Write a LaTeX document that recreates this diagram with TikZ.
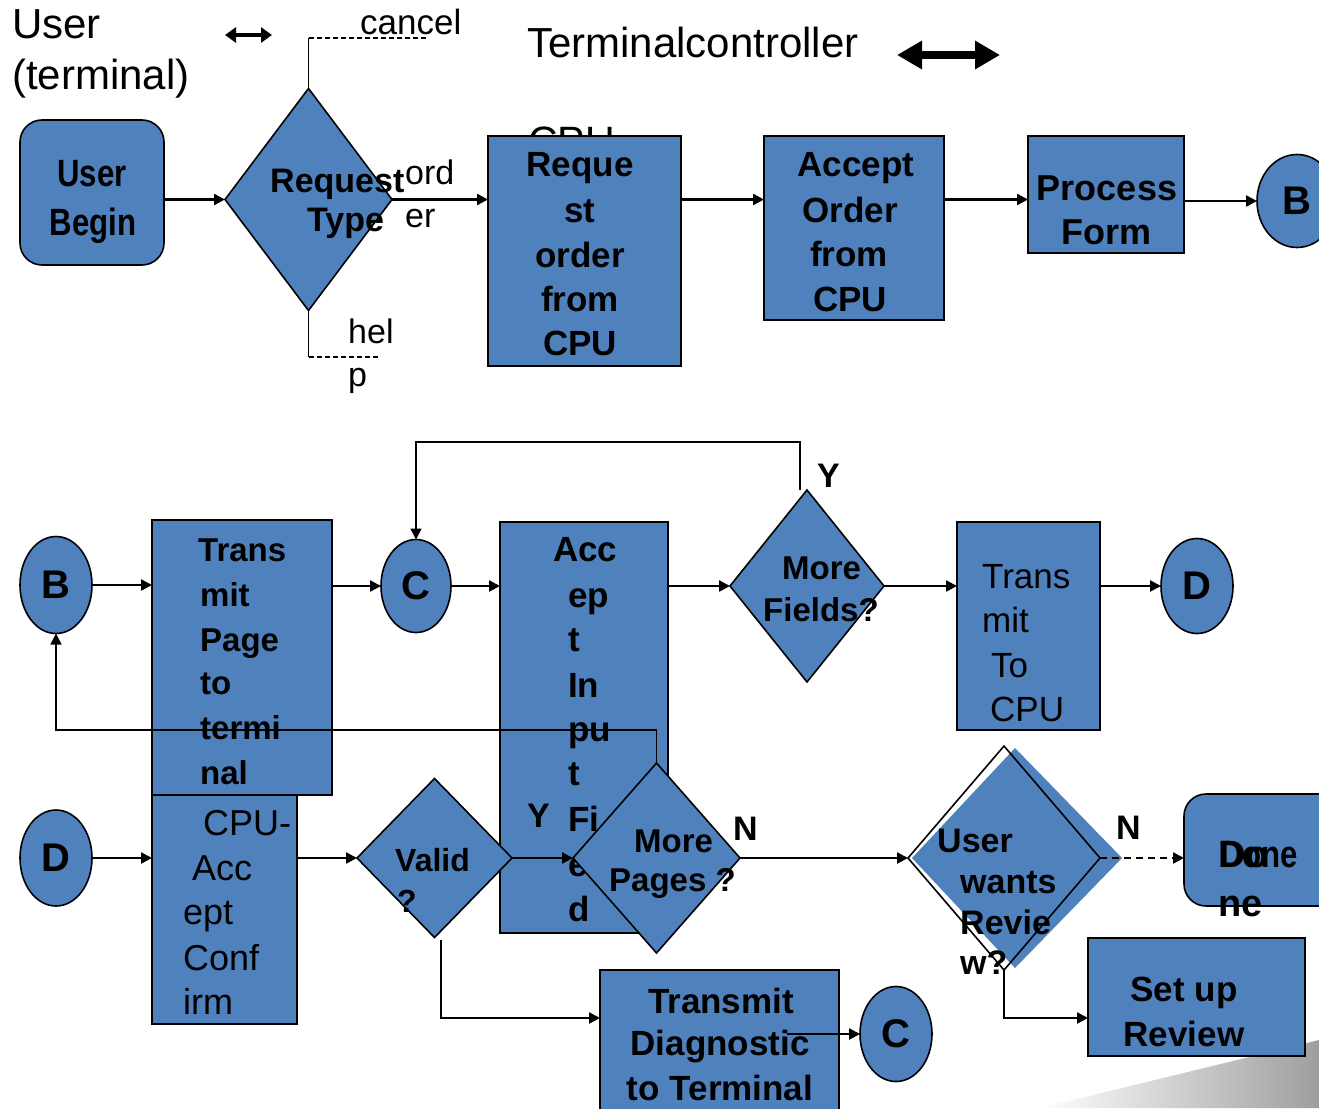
\documentclass[tikz,border=0pt]{standalone}
\usepackage{fontspec}
\setmainfont{Liberation Sans}
\newfontfamily\narrowfont[FakeStretch=0.82]{Liberation Sans}
\usetikzlibrary{shapes.geometric,arrows.meta}
\definecolor{fillblue}{HTML}{4F81BD}
\begin{document}
\begin{tikzpicture}[x=1pt,y=-1pt,
  shp/.style={draw=black,line width=1.6pt,fill=fillblue,inner sep=0pt,outer sep=0pt},
  boxn/.style={shp,rectangle},
  rbox/.style={shp,rectangle,rounded corners=22pt},
  ell/.style={shp,ellipse,font=\bfseries\fontsize{40}{40}\selectfont},
  dia/.style={shp,diamond},
  conn/.style={line width=2.4pt,-{Triangle[length=11pt,width=11pt]}},
  thinconn/.style={line width=1.5pt,-{Triangle[length=11pt,width=11pt]}},
  lead/.style={line width=1.5pt},
  dashlead/.style={line width=1.5pt,dash pattern=on 5pt off 3pt},
  tb/.style={font=\bfseries\fontsize{#1}{#1}\selectfont,inner sep=0pt,anchor=base},
  tbw/.style={font=\bfseries\fontsize{#1}{#1}\selectfont,inner sep=0pt,anchor=base west},
  tr/.style={font=\fontsize{#1}{#1}\selectfont,inner sep=0pt,anchor=base west},
  tn/.style={font=\narrowfont\bfseries\fontsize{#1}{#1}\selectfont,inner sep=0pt},
]
\useasboundingbox[fill=white] (0,0) rectangle (1319,1108);

% gray wedge bottom right
\shade[left color=white,right color=black!38] (1040,1108) -- (1319,1040) -- (1319,1108) -- cycle;

% ---------- headings ----------
\node[tr=42] (hUser) at (12,38) {User};
\node[tr=42] (hTerm) at (12,89) {(terminal)};
\node[tr=35] (hCancel) at (360,35) {cancel};
\node[tr=42] (hTC) at (527,57) {Terminalcontroller};
\node[tr=41] (hCPU) at (528,155) {CPU};

\coordinate (da1) at (225,35);
\coordinate (da2) at (272,35);
\draw[line width=4pt,{Triangle[length=11pt,width=15pt]}-{Triangle[length=11pt,width=15pt]}] (da1) -- (da2);
\coordinate (db1) at (897,55);
\coordinate (db2) at (1000,55);
\draw[line width=8pt,{Triangle[length=25pt,width=27pt]}-{Triangle[length=25pt,width=27pt]}] (db1) -- (db2);

% ---------- top row shapes ----------
\node[rbox,minimum width=144pt,minimum height=145pt] (ub) at (92,192.5) {};
\node[dia,minimum width=167pt,minimum height=222pt] (rt) at (308.5,199.5) {};
\node[boxn,minimum width=193pt,minimum height=230pt] (req) at (584.5,251) {};
\node[boxn,minimum width=180pt,minimum height=184pt] (acc) at (854,228) {};
\node[boxn,minimum width=156pt,minimum height=117pt] (proc) at (1106,194.5) {};
\node[ell,minimum width=80pt,minimum height=93pt] (B1) at (1297,201) {B};

% top row texts
\node[tn=38,anchor=base] (tub1) at (92,186) {User};
\node[tn=38,anchor=base] (tub2) at (93,235) {Begin};
\node[tbw=34] (trt1) at (270,192) {Request};
\node[tbw=34] (trt2) at (307,231) {Type};
\node[tr=34] (tord1) at (405,184) {ord};
\node[tr=34] (tord2) at (405,227) {er};
\node[tr=34] (thel1) at (348,343) {hel};
\node[tr=34] (thel2) at (348,386) {p};
\node[tb=35] (treq1) at (580,176) {Reque};
\node[tb=35] (treq2) at (580,222) {st};
\node[tb=35] (treq3) at (580,267) {order};
\node[tb=35] (treq4) at (580,311) {from};
\node[tb=35] (treq5) at (580,355) {CPU};
\node[tb=35] (tacc1) at (856,176) {Accept};
\node[tb=35] (tacc2) at (850,222) {Order};
\node[tb=35] (tacc3) at (849,266) {from};
\node[tb=35] (tacc4) at (850,311) {CPU};
\node[tb=36] (tpr1) at (1107,200) {Process};
\node[tb=36] (tpr2) at (1106,244) {Form};

% top row connectors
\draw[conn] (ub.east |- rt.west) -- (rt.west);
\draw[conn] (rt.east) -- (rt.east -| req.west);
\draw[conn] (req.east |- rt.east) -- (acc.west |- rt.east);
\draw[conn] (acc.east |- rt.east) -- (proc.west |- rt.east);
\draw[conn] (proc.east |- B1.west) -- (B1.west);
\coordinate (cancelEnd) at (428,38);
\draw[lead] (rt.north) -- (rt.north |- cancelEnd);
\draw[dashlead] (rt.north |- cancelEnd) -- (cancelEnd);
\coordinate (helpEnd) at (380,357);
\draw[lead] (rt.south) -- (rt.south |- helpEnd);
\draw[dashlead] (rt.south |- helpEnd) -- (helpEnd);

% ---------- middle row shapes ----------
\node[ell,minimum width=72pt,minimum height=97pt] (B2) at (56,585) {B};
\node[boxn,minimum width=145pt,minimum height=229pt] (cac) at (224.5,909.5) {};
\node[boxn,minimum width=180pt,minimum height=275pt] (tp) at (242,657.5) {};
\node[ell,minimum width=70pt,minimum height=93pt] (C1) at (416,586) {C};
\node[boxn,minimum width=168pt,minimum height=411pt] (aif) at (584,727.5) {};
\node[dia,minimum width=154pt,minimum height=192pt] (mf) at (807,586) {};
\node[boxn,minimum width=143pt,minimum height=208pt] (ttc) at (1028.5,626) {};
\node[ell,minimum width=72pt,minimum height=95pt] (D1) at (1197,586) {D};

% middle texts
\node[tbw=33] (ttp1) at (198,561) {Trans};
\node[tbw=33] (ttp2) at (200,606) {mit};
\node[tbw=33] (ttp3) at (200,651) {Page};
\node[tbw=33] (ttp4) at (200,694) {to};
\node[tbw=33] (ttp5) at (200,739) {termi};
\node[tbw=33] (ttp6) at (200,784) {nal};
\node[tbw=35] (tai1) at (553,561) {Acc};
\node[tbw=35] (tai2) at (568,607) {ep};
\node[tbw=35] (tai3) at (568,651) {t};
\node[tbw=35] (tai4) at (568,697) {In};
\node[tbw=35] (tai5) at (568,741) {pu};
\node[tbw=35] (tai6) at (568,785) {t};
\node[tbw=35] (tai7) at (568,831) {Fi};
\node[tbw=35] (tai8) at (568,876) {e};
\node[tbw=35] (tai9) at (568,921) {d};
\node[tbw=33] (tmf1) at (782,579) {More};
\node[tbw=33] (tmf2) at (763,621) {Fields?};
\node[tbw=34] (tY1) at (817,487) {Y};
\node[tr=35] (tttc1) at (982,588) {Trans};
\node[tr=35] (tttc2) at (982,632) {mit};
\node[tr=35] (tttc3) at (991,677) {To};
\node[tr=35] (tttc4) at (990,721) {CPU};

% ---------- bottom row shapes ----------
\node[ell,minimum width=72pt,minimum height=96pt] (D2) at (56,858) {D};
\node[dia,minimum width=155pt,minimum height=159pt] (va) at (434.5,858) {};
\node[dia,minimum width=167pt,minimum height=190pt] (mp) at (656.5,858) {};
\fill[fillblue] (912,858) -- (1015,748) -- (1122,858) -- (1015,968) -- cycle;
\node[diamond,draw=black,line width=1.6pt,inner sep=0pt,outer sep=0pt,minimum width=192pt,minimum height=224pt] (uw) at (1004,858) {};
\node[rbox,minimum width=156pt,minimum height=112pt] (done) at (1262,850) {};
\node[boxn,minimum width=239pt,minimum height=150pt] (td) at (719.5,1045) {};
\node[ell,minimum width=72pt,minimum height=95pt] (C2) at (896,1034) {C};
\node[boxn,minimum width=217pt,minimum height=118pt] (sur) at (1196.5,997) {};

% bottom texts
\node[tr=36] (tca1) at (203,835) {CPU-};
\node[tr=36] (tca2) at (192,880) {Acc};
\node[tr=36] (tca3) at (183,924) {ept};
\node[tr=36] (tca4) at (183,970) {Conf};
\node[tr=36] (tca5) at (183,1014) {irm};
\node[tbw=32] (tva1) at (395,871) {Valid};
\node[tbw=32] (tva2) at (397,912) {?};
\node[tbw=34] (tY2) at (527,827) {Y};
\node[tbw=33] (tmp1) at (634,852) {More};
\node[tbw=33] (tmp2) at (609,891) {Pages ?};
\node[tbw=34] (tN1) at (733,840) {N};
\node[tbw=34] (tuw1) at (937,852) {User};
\node[tbw=34] (tuw2) at (960,893) {wants};
\node[tbw=34] (tuw3) at (960,934) {Revie};
\node[tbw=34] (tuw4) at (960,974) {w?};
\node[tbw=34] (tN2) at (1116,839) {N};
\node[tn=38,anchor=base west] (tdone) at (1220,867) {Done};
\node[tbw=38] (tdo1) at (1218,867) {Do};
\node[tbw=38] (tdo2) at (1218,916) {ne};
\node[tb=35] (tsu1) at (1184,1001) {Set up};
\node[tb=35] (tsu2) at (1184,1046) {Review};
\node[tb=35] (ttd1) at (721,1013) {Transmit};
\node[tb=35] (ttd2) at (720,1055) {Diagnostic};
\node[tb=35] (ttd3) at (720,1100) {to Terminal};

% middle connectors
\draw[conn] (B2.east) -- (B2.east -| tp.west);
\draw[conn] (tp.east |- C1.west) -- (C1.west);
\draw[conn] (C1.east) -- (C1.east -| aif.west);
\draw[conn] (aif.east |- mf.west) -- (mf.west);
\draw[conn] (mf.east) -- (mf.east -| ttc.west);
\draw[conn] (ttc.east |- D1.west) -- (D1.west);
\coordinate (loopC) at (800,442);
\draw[thinconn] (loopC |- mf.north) -- (loopC) -| (C1.north);
\coordinate (loopB) at (656,730);
\draw[thinconn] (mp.north) -- (mp.north |- loopB) -| (B2.south);

% bottom connectors
\draw[conn] (D2.east) -- (D2.east -| cac.west);
\draw[conn] (cac.east |- va.west) -- (va.west);
\draw[conn] (va.east) -- (mp.west);
\draw[conn] (mp.east) -- (uw.west);
\coordinate (vb) at (441,940);
\coordinate (vc) at (441,1018);
\draw[conn] (vb) -- (vc) -- (vc -| td.west);
\coordinate (tdi) at (787,1034);
\draw[conn] (tdi) -- (C2.west);
\draw[conn,dash pattern=on 7pt off 5pt] (uw.east) -- (uw.east -| done.west);
\coordinate (uwb) at (1004,1018);
\draw[conn] (uw.south) -- (uwb) -- (uwb -| sur.west);
\end{tikzpicture}
\end{document}
